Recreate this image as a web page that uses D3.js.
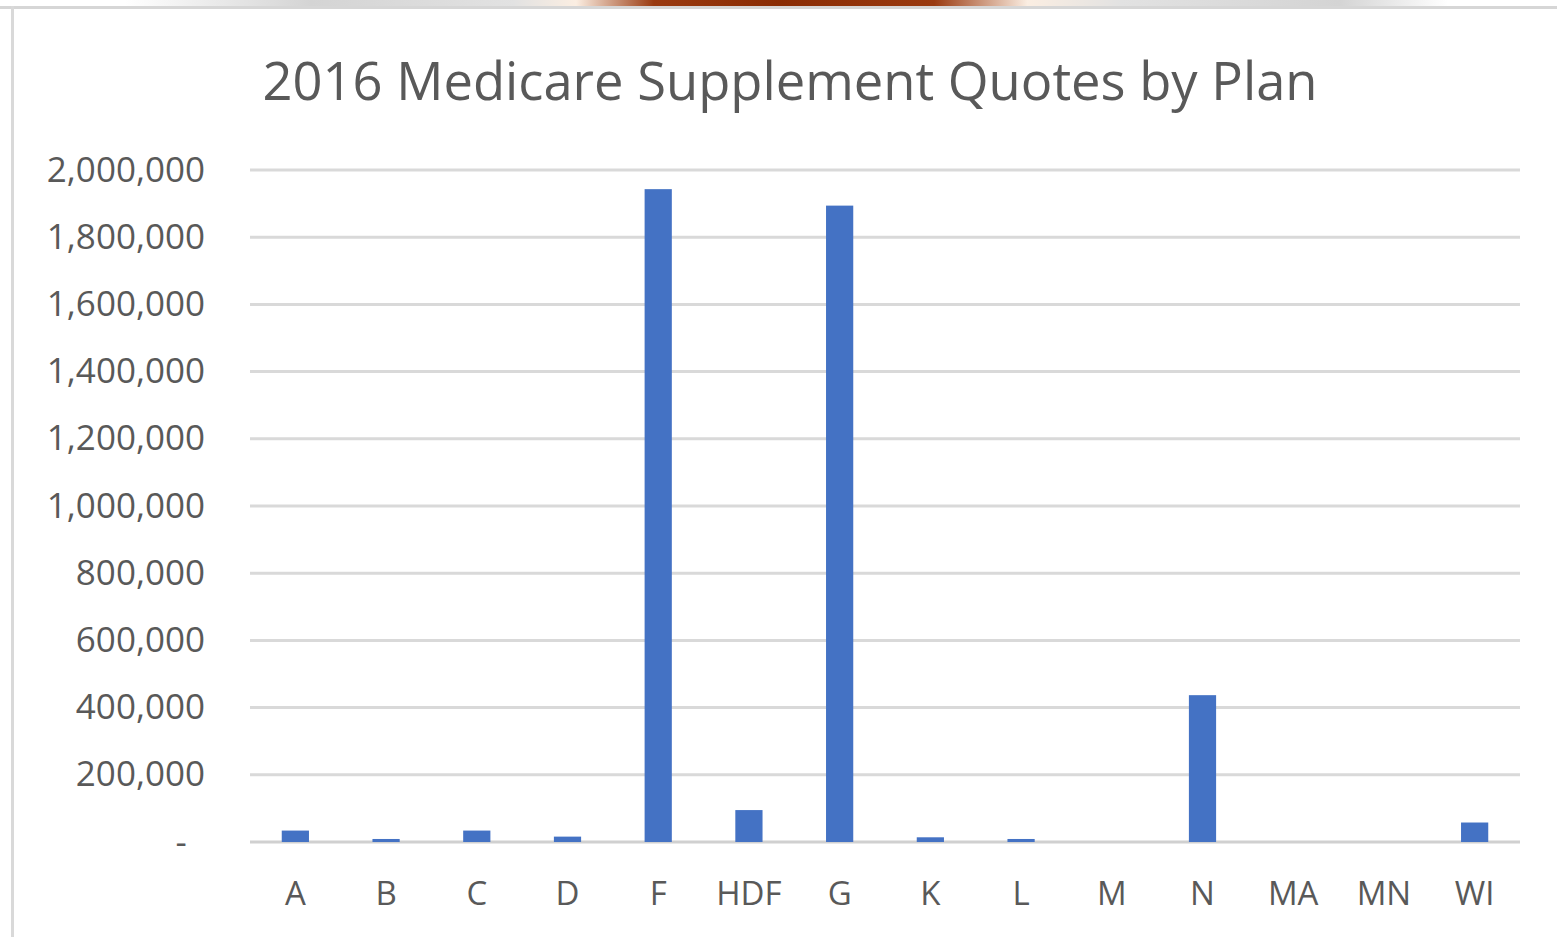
<!DOCTYPE html>
<html>
<head>
<meta charset="utf-8">
<script src="https://cdn.jsdelivr.net/npm/d3@7"></script>
<style>
  body { margin: 0; background: #fff; }
  svg { display: block; font-family: "Open Sans", sans-serif; }
</style>
</head>
<body>
<svg width="1557" height="937"></svg>
<script>
// data
var plans = ["A", "B", "C", "D", "F", "HDF", "G", "K", "L", "M", "N", "MA", "MN", "WI"];
var quotes = [34000, 9000, 34000, 16000, 1943000, 95000, 1894000, 14000, 9000, 0, 437000, 0, 0, 58000];
var yTicks = [0, 200000, 400000, 600000, 800000, 1000000, 1200000, 1400000, 1600000, 1800000, 2000000];

var svg = d3.select("svg");

// top strip (bit of the page above the chart)
var grad = svg.append("defs").append("linearGradient").attr("id", "strip");
grad.append("stop").attr("offset", "0.08").attr("stop-color", "#ffffff");
grad.append("stop").attr("offset", "0.2").attr("stop-color", "#d4d4d4");
grad.append("stop").attr("offset", "0.33").attr("stop-color", "#e2e2e2");
grad.append("stop").attr("offset", "0.37").attr("stop-color", "#fbeee2");
grad.append("stop").attr("offset", "0.42").attr("stop-color", "#9a3a10");
grad.append("stop").attr("offset", "0.5").attr("stop-color", "#8a2c04");
grad.append("stop").attr("offset", "0.6").attr("stop-color", "#9a3a10");
grad.append("stop").attr("offset", "0.66").attr("stop-color", "#fbeee2");
grad.append("stop").attr("offset", "0.72").attr("stop-color", "#e2e2e2");
grad.append("stop").attr("offset", "0.86").attr("stop-color", "#d4d4d4");
grad.append("stop").attr("offset", "0.93").attr("stop-color", "#ffffff");
svg.append("rect").attr("x", 0).attr("y", 0).attr("width", 1557).attr("height", 6)
  .attr("fill", "url(#strip)");

// chart frame
svg.append("rect").attr("x", 0).attr("y", 6).attr("width", 1557).attr("height", 3).attr("fill", "#d6d6d6");
svg.append("rect").attr("x", 11).attr("y", 6).attr("width", 3).attr("height", 931).attr("fill", "#d9d9d9");

var xScale = d3.scaleBand()
  .domain(plans)
  .range([250, 1520])
  .paddingInner(0.7)
  .paddingOuter(0.35);

var yScale = d3.scaleLinear()
  .domain([0, 2000000])
  .range([842, 170]);

// gridlines
svg.append("g").selectAll("line")
  .data(yTicks)
  .enter().append("line")
  .attr("x1", 250).attr("x2", 1520)
  .attr("y1", function(d) { return yScale(d); })
  .attr("y2", function(d) { return yScale(d); })
  .attr("stroke", function(d) { return d == 0 ? "#d0d0d0" : "#d9d9d9"; })
  .attr("stroke-width", 3);

// y labels
var fmt = d3.format(",");
svg.append("g").selectAll("text")
  .data(yTicks)
  .enter().append("text")
  .attr("x", 205)
  .attr("y", function(d) { return yScale(d); })
  .attr("dy", "0.33em")
  .attr("text-anchor", "end")
  .attr("fill", "#595959")
  .attr("font-size", 35)
  .text(function(d) { return d == 0 ? "-\u00a0\u00a0" : fmt(d); });

// bars
svg.append("g").selectAll("rect")
  .data(plans)
  .enter().append("rect")
  .attr("x", function(d) { return xScale(d); })
  .attr("width", xScale.bandwidth())
  .attr("y", function(d, i) { return yScale(quotes[i]); })
  .attr("height", function(d, i) { return yScale(0) - yScale(quotes[i]); })
  .attr("fill", "#4472c4");

// x labels
svg.append("g").selectAll("text")
  .data(plans)
  .enter().append("text")
  .attr("x", function(d) { return xScale(d) + xScale.bandwidth() / 2; })
  .attr("y", 905)
  .attr("text-anchor", "middle")
  .attr("fill", "#595959")
  .attr("font-size", 33)
  .text(function(d) { return d; });

// title
svg.append("text")
  .attr("x", 790)
  .attr("y", 100)
  .attr("text-anchor", "middle")
  .attr("fill", "#595959")
  .attr("font-size", 52.5)
  .text("2016 Medicare Supplement Quotes by Plan");
</script>
</body>
</html>
